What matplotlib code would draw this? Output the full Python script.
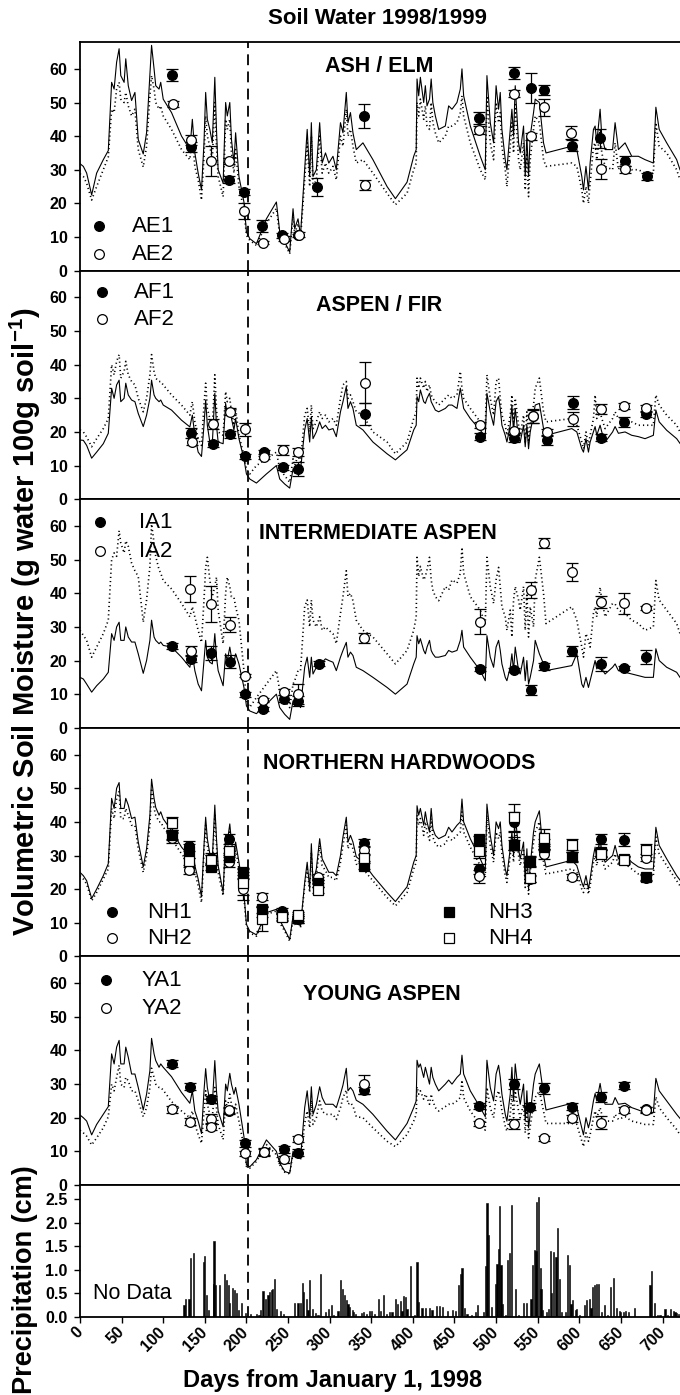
import matplotlib
matplotlib.use('Agg')
import matplotlib.pyplot as plt

plt.rcParams['font.family'] = ['Liberation Sans', 'DejaVu Sans']
plt.rcParams['mathtext.fontset'] = 'custom'
plt.rcParams['mathtext.rm'] = 'Liberation Sans'
plt.rcParams['mathtext.bf'] = 'Liberation Sans:bold'

# turning points of the simulated soil moisture curves (days from Jan 1 1998)
model_day = [0, 4, 8, 14, 20, 28, 34, 38, 41, 44,
             47, 49, 53, 55, 58, 62, 66, 70, 76, 80,
             84, 86, 89, 91, 95, 97, 100, 110, 122, 132,
             135, 138, 142, 146, 149, 151, 153, 156, 159, 162,
             164, 166, 172, 175, 177, 180, 182, 185, 187, 191,
             197, 200, 204, 212, 224, 236, 240, 246, 252, 256,
             258, 262, 265, 270, 273, 276, 278, 280, 284, 288,
             291, 295, 299, 304, 308, 313, 316, 320, 322, 325,
             328, 332, 340, 352, 369, 379, 393, 401, 404, 405,
             407, 409, 413, 415, 417, 420, 422, 424, 427, 431,
             439, 443, 447, 453, 457, 459, 461, 469, 481, 487,
             489, 493, 497, 500, 503, 505, 507, 511, 513, 517,
             519, 521, 523, 527, 529, 533, 535, 537, 539, 541,
             545, 547, 552, 557, 560, 591, 597, 603, 605, 608,
             611, 613, 617, 619, 621, 625, 627, 631, 640, 643,
             647, 655, 663, 671, 679, 689, 692, 696, 705, 717,
             721]

# ash / elm model (solid = plot 1, dotted = plot 2)
ae_solid = [31.8, 31, 29, 22.5, 29, 33, 35.7, 56, 54, 62,
            66, 58, 56, 63, 55, 50.6, 53, 39, 34.7, 41,
            58, 67, 60, 55, 54, 56, 51, 47, 40, 36,
            45, 35, 29, 24, 38, 53, 45, 42, 38, 57.5,
            42, 30, 26, 50, 46, 50, 39, 32, 41, 28,
            20.4, 11.5, 9.5, 8, 15.4, 20.4, 11.5, 8.5, 5.5, 18.4,
            12.5, 15.4, 10.5, 30, 42, 28, 44, 28, 30, 44,
            32, 35, 32, 34, 30, 44, 41, 53, 44, 47,
            41, 36, 38, 33, 25, 21.4, 26.3, 34, 36, 57,
            52, 57.5, 50, 55, 49, 51, 57, 50, 46, 42,
            43, 49, 48, 50, 54, 60, 52, 43, 34, 30,
            58, 44, 38, 55, 48, 53, 42, 33, 30, 42,
            48, 40, 55, 38, 35, 43, 28, 40, 28, 40,
            47, 51, 50, 38, 35, 37, 36, 28, 24, 31,
            24, 32, 42, 43, 38, 48, 40, 36, 36, 44,
            36, 38, 34, 34, 33, 32, 48.6, 42, 38, 33,
            30]
ae_dotted = [28.8, 28, 26, 21, 25, 30, 33.8, 48, 47, 54,
             56, 51, 50, 53, 49, 46, 48, 36, 30.8, 37,
             52, 58, 54, 50, 48, 49, 46, 42, 36, 33,
             40, 31, 27, 21, 34, 46, 40, 37, 33, 50,
             37, 28, 22, 45, 42, 45, 35, 29, 36, 25,
             18, 10.5, 9, 7.5, 14, 18.5, 10.5, 8, 5, 16,
             11, 14, 9.5, 27, 38, 25, 40, 25, 27, 40,
             29, 32, 29, 31, 27, 40, 37, 48, 40, 42,
             37, 32, 33, 29, 23, 19.6, 23, 30, 32, 50,
             46, 51, 45, 49, 43, 42, 50, 44, 41, 38,
             40, 43, 43, 44, 47, 52, 46, 38, 30, 27,
             52, 38, 33, 50, 44, 47, 37, 30, 25, 37,
             44, 35, 50, 33, 30, 38, 24, 35, 22, 33,
             42, 46, 44, 33, 31, 32, 31, 24, 20, 25,
             20, 26, 37, 38, 33, 42, 35, 31, 30, 38,
             30, 34, 30, 30, 29, 29, 44, 37, 35, 30,
             27]

# aspen / fir model
af_solid = [17.6, 17.5, 16, 12.2, 14, 16.5, 19.6, 33, 30, 34,
            35.4, 29, 30, 34.5, 31, 29.5, 29, 25.5, 21.6, 25,
            30, 35.4, 31, 30, 29, 29.5, 28, 26.5, 23.5, 21.5,
            25, 19, 14, 12.7, 22, 29.5, 22, 17, 16.5, 31.5,
            22, 17, 16.5, 28.5, 25, 27, 24, 20.6, 24, 18,
            12, 7.5, 6, 4.8, 7.5, 10, 6, 4.5, 3.3, 9,
            7.7, 9, 8.7, 20.6, 24, 17, 24.6, 18, 20, 23,
            21, 22, 20.6, 21, 18.6, 26, 29, 33.5, 27, 29,
            27, 22, 20.6, 17, 13.5, 11.7, 14.7, 20.6, 22, 30.5,
            29, 32.5, 29, 28.5, 30, 31.5, 29, 28, 26.5, 26,
            27, 28, 28, 27, 33, 30, 27, 24, 20.5, 18.6,
            31.5, 26, 22, 29, 30.5, 27, 22, 19, 17, 22,
            28, 20, 27, 18, 17, 22, 15.6, 22, 15, 20,
            25, 28, 28.5, 21, 19, 21, 20, 15, 14, 18,
            14, 17, 20, 21.6, 19, 22, 20, 17, 20, 21.6,
            19.6, 20, 19, 18.6, 18, 19, 26.5, 23, 20.5, 18,
            16.6]
af_dotted = [20.6, 20, 18.5, 15.6, 18, 21, 24, 40, 37, 41,
             43, 36, 38, 41, 37, 35, 34, 30, 26, 30,
             37, 43, 38, 36, 35, 35, 34, 31, 28, 25,
             29, 23, 18, 16, 28, 34.5, 27, 24, 21, 37,
             27, 20, 19, 32, 29, 30, 26, 22, 27, 19,
             13, 9, 7.5, 10, 12, 14, 9, 7, 5, 12,
             10, 13, 11, 25, 27, 20, 28, 21, 23, 26,
             24, 25, 23, 24, 22, 30, 34, 35, 30, 31,
             29, 26, 25, 20, 17, 13.5, 17, 24, 26, 36,
             33, 36, 33, 35, 32, 34, 31, 30, 29, 28,
             30, 31, 30, 31, 38, 33, 30, 27, 23, 21,
             37, 30, 25, 35, 36, 30, 25, 22, 19, 25,
             31, 23, 30, 22, 19, 25, 17, 26, 17, 22,
             28, 33, 36, 26, 23, 24, 22, 17, 15, 20,
             16, 19, 24, 31, 24, 26, 24, 21, 24, 26,
             24, 24, 23, 22, 22, 22, 31, 28, 25, 22,
             20]

# intermediate aspen model
ia_solid = [15, 14.5, 13, 10.6, 12.5, 14.5, 16.5, 28, 26, 30,
            31.4, 26, 26, 30, 27, 25.5, 25.5, 22, 16.2, 20,
            26, 32, 27, 26, 25, 25.5, 24.5, 24, 21, 18,
            22, 17, 13, 11, 20, 26, 21, 19.5, 19, 28,
            21, 17, 12.5, 22, 20, 24, 21, 19.5, 22, 19,
            12, 6.5, 5, 4.2, 7, 10, 6, 4, 2.5, 8,
            6.5, 7.5, 6, 18, 21, 15, 21, 16, 18, 20,
            19.5, 20.5, 20, 19.5, 17, 21, 23, 25.4, 21, 22.5,
            21.5, 18, 17, 15, 12, 10, 13, 19, 21, 27.4,
            25, 26.5, 23, 22, 24, 26, 23, 22, 21, 21,
            21.5, 23, 22.5, 23, 26, 29, 24, 21, 17, 14,
            27.4, 21, 18, 24, 26, 23, 19, 15, 14, 18,
            22, 17, 24, 17, 16, 21, 14, 20, 13, 15,
            20, 26, 22, 19, 17, 18.5, 22, 13, 12, 15,
            12, 14, 18, 20, 17.5, 19, 17.5, 16, 18, 19,
            17, 16.5, 16, 15.5, 15, 15, 23.5, 20, 18, 16.5,
            15]
ia_dotted = [29, 27.5, 26, 21, 24, 28, 32, 50, 52, 51,
             58.6, 55, 52, 55.6, 54, 49, 46.7, 45, 31.4, 38,
             48, 60.6, 55, 51, 47, 46, 43.8, 41.3, 37, 33,
             36, 33, 29, 25.4, 38, 47.7, 50.7, 44, 39, 42,
             44.8, 35, 25, 40, 44.8, 42, 39, 38.8, 36, 32,
             17, 8, 6.1, 9, 13, 17, 11, 8, 6, 13,
             14, 17, 17, 36, 38, 30, 38, 32, 30, 33,
             29, 30, 29, 28, 25, 34, 39, 46.7, 39, 40,
             37.8, 32, 29, 27, 22, 19, 23, 29, 33, 50.7,
             45, 48, 44, 45, 47, 50.7, 44, 41, 39, 37.8,
             42, 41, 44, 43, 46, 53.7, 46, 39, 35, 31,
             50.7, 42, 37, 44, 47.7, 42, 36, 33, 29, 35,
             27, 38, 42, 38, 35, 42, 29, 40, 27, 36,
             30, 44, 50.7, 40, 31, 36, 32, 24, 21, 28,
             26, 24, 34, 36, 33, 41.8, 38, 33, 37, 36.8,
             35, 34, 32, 31, 29, 30, 43.8, 38, 35, 31,
             28]

# northern hardwoods model
nh_solid = [25, 24, 22.5, 17.2, 20, 24, 27.6, 47, 44, 50,
            51.7, 44, 44, 47, 45, 41, 41.4, 34, 26.6, 32,
            42, 52.7, 47, 44.3, 42, 43, 40.9, 37.4, 32.5, 29.6,
            34, 27, 23, 17.7, 33, 41.4, 35, 30.5, 29, 45,
            35, 27, 19, 36, 34, 39.4, 34, 30, 34, 28,
            18.7, 9.5, 7.5, 6.4, 13, 14, 10.8, 8, 5, 12,
            10, 11, 9, 22, 28, 20, 33.5, 22, 26, 35,
            29, 27, 25, 25, 24, 30, 35.5, 41.4, 34, 36,
            34, 29.6, 28, 24, 19, 16.3, 20.7, 28, 30, 44.8,
            42, 44, 39, 43, 40, 37, 44, 38, 36, 35,
            36, 38.4, 37, 39, 40, 46.8, 40, 35, 29, 25.6,
            45.3, 36, 30, 40, 38, 40, 33, 26, 24, 32,
            37, 30, 42, 32, 29, 34, 22, 32, 20, 27,
            37, 40, 43.3, 30, 26.6, 28.6, 27, 22, 20.7, 24,
            20, 23, 30, 32.5, 29, 35.5, 31, 28, 30, 33,
            29, 30, 28, 26.6, 26, 26, 38.4, 33, 29, 24,
            22.7]
nh_dotted = [24, 23, 21.5, 16.5, 19, 23, 26, 44, 41, 47,
             49, 41, 41, 44, 42, 39, 39, 32, 25, 30,
             39, 50, 44, 42, 40, 40, 38.5, 35, 30.5, 27.5,
             32, 25, 21, 16, 31, 39, 33, 28.5, 27, 42,
             33, 25, 18, 34, 32, 37, 32, 28, 32, 26,
             17.5, 9, 7, 6, 12.5, 13.5, 10, 7.5, 4.5, 11,
             9.5, 10.5, 8.5, 21, 26, 19, 31, 21, 24, 33,
             27, 25.5, 23.5, 23.5, 22.5, 28, 33, 39, 32, 34,
             32, 27.5, 26, 22.5, 17.5, 15, 19, 26, 28, 42,
             39, 41, 36, 40, 37, 34.5, 41, 35.5, 33.5, 32.5,
             33.5, 35.5, 34.5, 36, 37, 43, 37, 32.5, 27, 23.5,
             42, 33, 28, 37, 35, 37, 30.5, 24, 22, 30,
             34, 28, 39, 30, 27, 31.5, 20.5, 30, 18.5, 25,
             34, 37, 40, 28, 24.5, 26, 25, 20, 19, 22,
             18.5, 21, 28, 30, 27, 33, 29, 26, 28, 30.5,
             27, 27.5, 26, 24.5, 24, 24, 35.5, 30.5, 27, 22.5,
             21]

# young aspen model
ya_solid = [20.8, 20, 19, 14.9, 18, 21, 23.3, 39, 36, 41,
            43, 36, 36, 41, 38, 33, 33, 29, 22.3, 27,
            34, 43.6, 39, 37, 35, 36, 35, 32.2, 27.5, 24.3,
            28, 22, 19, 15.3, 28, 34.6, 29, 25, 24, 37,
            28, 22, 17.3, 30, 28, 33.2, 30, 27, 29, 24,
            14.4, 6, 5.4, 7.5, 13.4, 10, 6.5, 4, 3.5, 10,
            8.5, 10, 8, 23, 28, 20, 29.2, 21, 24, 29.2,
            26, 24, 24, 24, 23, 27, 29.7, 34.7, 28, 29,
            28, 25.2, 24, 21, 16, 13.4, 18.3, 23, 25, 37.1,
            35, 36, 32, 35, 33, 30, 35, 32, 30, 28,
            30, 31.2, 30, 32, 33, 38.6, 33, 28, 23, 20.3,
            37.1, 29, 25, 33, 35.6, 32, 27, 21, 19, 27,
            35, 25, 36, 27, 24, 30, 19, 28, 17, 21,
            30, 33, 36, 27, 22.3, 24.3, 23, 17, 14.9, 20,
            17, 19, 25, 27.2, 25, 30.2, 27, 24, 24, 26,
            24, 24.3, 23, 22.3, 21.5, 21.5, 31.7, 28, 25, 21,
            19.8]
ya_dotted = [16.3, 15.5, 14.5, 11.9, 14, 17, 20.3, 30, 28, 32,
             35.6, 30, 29, 32, 31, 28, 28, 25, 20.3, 23,
             29, 34.7, 32, 30, 29, 29, 28.2, 24.8, 22, 20,
             22, 18, 15, 12.4, 22, 28, 24, 21, 20, 29,
             23, 18, 13.5, 25, 23, 27, 24, 22, 24, 19,
             11.4, 5.5, 5, 7, 12, 9, 6, 3.8, 3.3, 9.5,
             8, 9.5, 7.5, 18.3, 22, 17, 25.2, 18, 20, 25,
             22, 21, 21, 21, 19.5, 23, 26, 28.2, 24, 24.5,
             23.5, 20.3, 20, 17, 13, 11.4, 15, 19, 21, 29.2,
             27, 28, 25.5, 27, 26, 24, 27, 25, 23, 22,
             23.3, 24, 24, 25, 26, 31.2, 26, 22, 18, 16.3,
             29, 23, 20, 26, 28, 26, 22, 17.5, 16, 21,
             27, 20, 28, 22, 20, 24, 15.5, 22, 14, 17.5,
             24, 26, 28, 22, 18.3, 18.3, 18, 13, 11.4, 15.5,
             13, 15, 20, 22, 20, 23, 21, 19, 19, 21,
             19.5, 20.3, 19, 18.5, 18, 18, 26.2, 23, 20, 16.5,
             14.9]

# measured soil water (mean and error) per plot
ae1_day = [110, 133, 179, 197, 219, 243, 262, 285, 341, 480, 521, 542, 557, 591, 625, 655, 681]
ae1_val = [58.3, 36.7, 27.0, 23.4, 13.3, 10.5, 10.5, 24.8, 46.1, 45.3, 58.7, 54.3, 53.8, 37.2, 39.4, 32.6, 28.0]
ae1_err = [1.8, 1.5, 1.0, 1.0, 1.8, 0.8, 0.5, 2.6, 3.6, 1.8, 1.8, 4.5, 1.5, 1.5, 2.8, 1.5, 1.0]
ae2_day = [112, 133, 158, 179, 197, 220, 245, 263, 343, 480, 521, 542, 558, 590, 626, 655]
ae2_val = [49.6, 38.9, 32.6, 32.6, 17.6, 8.3, 9.5, 10.7, 25.5, 41.7, 52.6, 39.9, 48.6, 41.0, 30.3, 30.1]
ae2_err = [0.8, 1.4, 4.4, 1.0, 2.4, 0.5, 0.8, 0.8, 1.5, 1.2, 1.0, 1.0, 2.5, 2.0, 3.0, 1.0]

af1_day = [133, 160, 180, 198, 221, 244, 262, 342, 481, 522, 544, 561, 592, 626, 654, 680]
af1_val = [19.6, 16.4, 19.3, 12.7, 13.9, 9.5, 9.0, 25.3, 18.6, 18.1, 24.6, 17.6, 28.7, 18.3, 22.9, 25.3]
af1_err = [1.5, 0.8, 1.0, 0.8, 0.6, 0.8, 2.0, 3.3, 1.0, 1.0, 2.0, 1.5, 2.0, 1.0, 1.5, 1.0]
af2_day = [134, 160, 180, 198, 221, 244, 262, 342, 481, 522, 544, 561, 592, 626, 654, 680]
af2_val = [17.1, 22.4, 26.0, 20.8, 12.4, 14.7, 13.9, 34.7, 22.1, 20.3, 24.8, 19.9, 23.8, 26.7, 27.7, 27.0]
af2_err = [1.0, 1.5, 1.0, 2.0, 0.5, 1.5, 1.2, 6.1, 0.8, 1.0, 2.0, 1.0, 2.0, 1.5, 0.8, 1.0]

ia1_day = [110, 133, 158, 180, 198, 220, 245, 262, 287, 481, 521, 542, 557, 591, 626, 654, 680]
ia1_val = [24.3, 20.5, 22.3, 19.7, 9.9, 5.7, 8.6, 7.9, 19.1, 17.5, 17.3, 11.3, 18.3, 22.8, 19.0, 17.7, 21.0]
ia1_err = [0.8, 1.0, 2.0, 2.0, 0.8, 0.6, 1.0, 1.5, 0.8, 0.6, 0.6, 1.5, 1.0, 1.5, 2.0, 0.6, 2.0]
ia2_day = [132, 133, 158, 180, 198, 220, 245, 262, 341, 481, 542, 557, 591, 626, 654, 680]
ia2_val = [41.2, 22.8, 36.8, 30.7, 15.5, 8.3, 10.6, 10.1, 26.6, 31.6, 41.0, 55.0, 46.4, 37.5, 37.0, 35.6]
ia2_err = [3.9, 1.4, 5.3, 2.3, 0.5, 0.6, 0.8, 3.0, 1.5, 3.6, 2.5, 1.5, 2.7, 1.8, 3.2, 0.5]

nh_day = [110, 131, 157, 179, 196, 219, 243, 262, 286, 341, 480, 522, 541, 557, 591, 626, 654, 680]
nh1_val = [36.0, 32.7, 29.3, 34.8, 24.8, 13.3, 13.5, 11.0, 22.7, 33.8, 26.1, 39.9, 28.0, 33.5, 30.0, 35.0, 34.7, 23.3]
nh1_err = [1.5, 1.5, 1.5, 1.5, 1.5, 1.5, 1.0, 1.0, 1.0, 1.0, 1.5, 3.0, 1.5, 1.5, 1.5, 1.5, 2.0, 1.0]
nh2_val = [35.3, 25.6, 28.6, 28.0, 19.9, 17.7, 11.8, 11.0, 23.6, 31.5, 23.8, 33.5, 23.0, 30.5, 23.6, 30.5, 28.6, 29.4]
nh2_err = [1.5, 1.0, 1.5, 1.5, 3.0, 1.0, 1.0, 1.0, 1.0, 1.0, 2.0, 2.0, 1.0, 1.5, 1.0, 1.0, 1.0, 1.0]
nh3_val = [36.0, 31.3, 26.6, 29.6, 25.1, 14.0, 12.3, 11.5, 21.7, 26.9, 34.8, 33.0, 28.4, 32.5, 29.6, 31.0, 29.0, 23.6]
nh3_err = [1.0, 2.0, 1.0, 1.0, 1.0, 1.0, 1.0, 1.0, 1.0, 1.0, 1.0, 1.5, 1.5, 1.0, 1.5, 1.0, 1.0, 1.0]
nh4_val = [39.6, 28.3, 28.8, 31.2, 21.7, 11.1, 11.6, 12.3, 19.7, 29.3, 31.2, 41.4, 23.2, 35.3, 33.0, 30.5, 28.8, 31.5]
nh4_err = [2.0, 1.0, 1.5, 1.0, 3.5, 3.5, 1.0, 1.0, 1.0, 1.0, 2.0, 4.0, 1.0, 2.5, 2.0, 1.0, 1.0, 2.0]

ya1_day = [111, 132, 158, 179, 198, 221, 245, 262, 341, 480, 522, 541, 557, 591, 626, 654, 680]
ya1_val = [36.1, 29.2, 25.5, 22.0, 12.4, 9.9, 10.6, 9.6, 28.2, 23.5, 30.0, 23.3, 28.7, 23.3, 26.2, 29.5, 22.5]
ya1_err = [1.0, 1.0, 1.0, 1.0, 1.0, 1.0, 1.0, 1.0, 1.0, 1.0, 1.5, 1.0, 1.5, 1.0, 1.5, 1.0, 0.8]
ya2_day = [111, 132, 158, 158, 179, 198, 221, 245, 262, 341, 480, 522, 557, 591, 626, 654, 680]
ya2_val = [22.5, 18.8, 19.5, 17.3, 22.3, 9.4, 9.7, 7.6, 13.7, 29.9, 18.3, 18.1, 13.9, 19.8, 18.5, 22.3, 22.3]
ya2_err = [1.0, 1.0, 1.5, 1.0, 1.0, 0.8, 1.0, 1.0, 1.0, 2.8, 0.8, 1.5, 0.8, 1.0, 2.0, 1.0, 0.8]

# daily precipitation (cm); no record before day 124
precip_day = [125, 127, 131, 133, 136, 148, 150, 152, 154, 160, 161, 163, 168, 174, 176, 178, 180,
              183, 186, 188, 190, 194, 199, 205, 212, 215, 217, 220, 223, 226, 228, 230, 231, 234,
              236, 241, 245, 258, 262, 265, 267, 269, 272, 274, 276, 279, 283, 286, 289, 295, 299,
              302, 305, 310, 313, 315, 318, 320, 322, 324, 327, 329, 331, 338, 341, 344, 348, 350,
              354, 359, 361, 365, 368, 372, 375, 379, 382, 385, 387, 389, 391, 393, 397, 402, 405,
              407, 411, 415, 420, 423, 428, 432, 436, 442, 448, 451, 455, 457, 459, 462, 465, 470,
              475, 478, 485, 487, 489, 491, 494, 499, 501, 503, 504, 506, 508, 511, 514, 516, 519,
              523, 527, 533, 537, 542, 544, 546, 548, 549, 551, 553, 554, 556, 561, 563, 565, 567,
              569, 572, 574, 576, 579, 583, 586, 588, 590, 592, 595, 597, 600, 606, 609, 612, 614,
              616, 618, 621, 623, 627, 630, 634, 637, 641, 645, 648, 650, 653, 656, 659, 666, 685,
              687, 690, 694, 697, 703, 706, 710, 713, 715, 717, 719]
precip_cm = [0.26, 0.39, 0.39, 1.25, 1.35, 1.17, 1.29, 0.46, 0.14, 0.69, 1.61, 0.67, 0.67, 0.91, 0.78, 0.67, 0.3,
             0.62, 0.58, 0.5, 0.15, 0.3, 0.08, 0.07, 0.07, 0.05, 0.14, 0.55, 0.38, 0.46, 0.52, 0.57, 0.6, 0.81,
             0.18, 0.12, 0.06, 0.3, 0.3, 0.3, 0.73, 0.53, 0.39, 0.15, 0.79, 0.18, 0.09, 0.05, 0.91, 0.1, 0.16,
             0.25, 0.05, 0.12, 0.79, 0.6, 0.46, 0.35, 0.28, 0.22, 0.14, 0.1, 0.07, 0.09, 0.1, 0.07, 0.12, 0.12,
             0.07, 0.39, 0.12, 0.46, 0.07, 0.1, 0.1, 0.38, 0.28, 0.33, 0.12, 0.44, 0.42, 0.18, 1.08, 0.05, 1.17,
             0.32, 0.19, 0.19, 0.19, 0.14, 0.23, 0.24, 0.21, 0.12, 0.14, 0.12, 0.67, 0.92, 1.03, 0.2, 0.07, 0.05,
             0.1, 0.25, 0.1, 1.08, 2.41, 1.74, 0.21, 0.71, 1.13, 1.45, 2.36, 1.1, 0.28, 0.05, 1.2, 1.35, 2.37,
             0.6, 0.05, 0.3, 0.3, 0.39, 1.1, 1.42, 1.4, 2.44, 2.55, 1.03, 0.6, 0.14, 0.1, 0.18, 1.4, 0.5,
             1.38, 1.27, 1.88, 0.81, 0.1, 0.1, 1.32, 1.1, 0.28, 0.35, 0.15, 0.18, 0.05, 0.25, 0.35, 0.39, 0.2,
             0.64, 0.67, 0.69, 0.71, 0.1, 0.25, 0.05, 0.64, 0.83, 0.2, 0.12, 0.1, 0.1, 0.12, 0.1, 0.19, 0.67,
             0.97, 0.3, 0.05, 0.05, 0.16, 0.05, 0.16, 0.12, 0.1, 0.08, 0.07]

soil_ticks = [0, 10, 20, 30, 40, 50, 60]
precip_ticks = [0.0, 0.5, 1.0, 1.5, 2.0, 2.5]
day_ticks = list(range(0, 701, 50))
harvest_day = 202

W, H = 680, 1395
fig = plt.figure(figsize=(W / 100, H / 100), dpi=100)
gs = fig.add_gridspec(6, 1, height_ratios=[228.5] * 5 + [132], hspace=0,
                      left=80 / W, right=1.0, top=1 - 42 / H, bottom=1 - 1317 / H)
axes = [fig.add_subplot(gs[i]) for i in range(6)]

tick_font = dict(fontsize=11.5, fontweight='bold')


def style_axis(ax):
    ax.set_xlim(0, 721)
    ax.spines['right'].set_visible(False)
    for side in ('left', 'top', 'bottom'):
        ax.spines[side].set_linewidth(1.3)
    ax.tick_params(axis='y', direction='out', length=4, width=1, pad=5)
    ax.axvline(harvest_day, color='black', lw=1.3, dashes=(6, 3.5), zorder=1)


def draw_panel(ax, solid, dotted, obs, title, title_xy, legend):
    style_axis(ax)
    ax.plot(model_day, solid, color='black', lw=0.8, zorder=2)
    ax.plot(model_day, dotted, color='black', lw=1.2, linestyle=(0, (0.7, 1.8)), zorder=2)
    for days, vals, errs, marker, face in obs:
        ax.errorbar(days, vals, yerr=errs, fmt=marker, ms=7, mfc=face, mec='black', mew=0.9,
                    ecolor='black', elinewidth=0.9, capsize=4, capthick=0.9, zorder=3)
    ax.set_ylim(0, 68)
    ax.set_yticks(soil_ticks)
    ax.set_yticklabels([str(t) for t in soil_ticks], **tick_font)
    ax.tick_params(axis='x', bottom=False, labelbottom=False)
    ax.text(title_xy[0], title_xy[1], title, transform=ax.transAxes, ha='center', va='center',
            fontsize=15.5, fontweight='bold')
    for marker, face, label, mx, tx, ty in legend:
        ax.plot([mx], [ty], marker=marker, ms=7, mfc=face, mec='black', mew=0.9,
                ls='none', transform=ax.transAxes, clip_on=False)
        ax.text(tx, ty, label, transform=ax.transAxes, ha='left', va='center', fontsize=16)


draw_panel(axes[0], ae_solid, ae_dotted,
           [(ae1_day, ae1_val, ae1_err, 'o', 'black'), (ae2_day, ae2_val, ae2_err, 'o', 'white')],
           'ASH / ELM', (0.499, 0.893),
           [('o', 'black', 'AE1', 0.032, 0.087, 0.195), ('o', 'white', 'AE2', 0.032, 0.087, 0.072)])
draw_panel(axes[1], af_solid, af_dotted,
           [(af1_day, af1_val, af1_err, 'o', 'black'), (af2_day, af2_val, af2_err, 'o', 'white')],
           'ASPEN / FIR', (0.498, 0.849),
           [('o', 'black', 'AF1', 0.037, 0.09, 0.906), ('o', 'white', 'AF2', 0.037, 0.09, 0.788)])
draw_panel(axes[2], ia_solid, ia_dotted,
           [(ia1_day, ia1_val, ia1_err, 'o', 'black'), (ia2_day, ia2_val, ia2_err, 'o', 'white')],
           'INTERMEDIATE ASPEN', (0.497, 0.851),
           [('o', 'black', 'IA1', 0.034, 0.098, 0.899), ('o', 'white', 'IA2', 0.034, 0.098, 0.772)])
draw_panel(axes[3], nh_solid, nh_dotted,
           [(nh_day, nh1_val, nh1_err, 'o', 'black'), (nh_day, nh2_val, nh2_err, 'o', 'white'),
            (nh_day, nh3_val, nh3_err, 's', 'black'), (nh_day, nh4_val, nh4_err, 's', 'white')],
           'NORTHERN HARDWOODS', (0.532, 0.845),
           [('o', 'black', 'NH1', 0.053, 0.112, 0.193), ('o', 'white', 'NH2', 0.053, 0.112, 0.079),
            ('s', 'black', 'NH3', 0.615, 0.68, 0.193), ('s', 'white', 'NH4', 0.615, 0.68, 0.079)])
draw_panel(axes[4], ya_solid, ya_dotted,
           [(ya1_day, ya1_val, ya1_err, 'o', 'black'), (ya2_day, ya2_val, ya2_err, 'o', 'white')],
           'YOUNG ASPEN', (0.503, 0.834),
           [('o', 'black', 'YA1', 0.043, 0.102, 0.895), ('o', 'white', 'YA2', 0.043, 0.102, 0.772)])

# precipitation panel
ax = axes[5]
style_axis(ax)
ax.bar(precip_day, precip_cm, width=1.4, color='black', edgecolor='black', linewidth=0.4, zorder=2)
ax.set_ylim(0, 2.8)
ax.set_yticks(precip_ticks)
ax.set_yticklabels([f'{t:.1f}' for t in precip_ticks], **tick_font)
ax.set_xticks(day_ticks)
ax.set_xticklabels([str(d) for d in day_ticks], rotation=45, ha='right', va='center',
                   rotation_mode='anchor', **tick_font)
ax.tick_params(axis='x', direction='out', length=4, width=1, pad=5)
ax.text(0.022, 0.18, 'No Data', transform=ax.transAxes, ha='left', va='center', fontsize=15.5)

fig.text(378 / W, 1 - 18 / H, 'Soil Water 1998/1999', ha='center', va='center',
         fontsize=16, fontweight='bold')
fig.text(333 / W, 1 - 1381 / H, 'Days from January 1, 1998', ha='center', va='center',
         fontsize=17, fontweight='bold')
fig.text(25 / W, 1 - 622 / H, r'Volumetric Soil Moisture (g water 100g soil$^{\mathbf{-1}}$)',
         rotation=90, ha='center', va='center', fontsize=21, fontweight='bold')
fig.text(25 / W, 1 - 1280 / H, 'Precipitation (cm)', rotation=90, ha='center', va='center',
         fontsize=19.5, fontweight='bold')

fig.savefig('out.png', dpi=100)
